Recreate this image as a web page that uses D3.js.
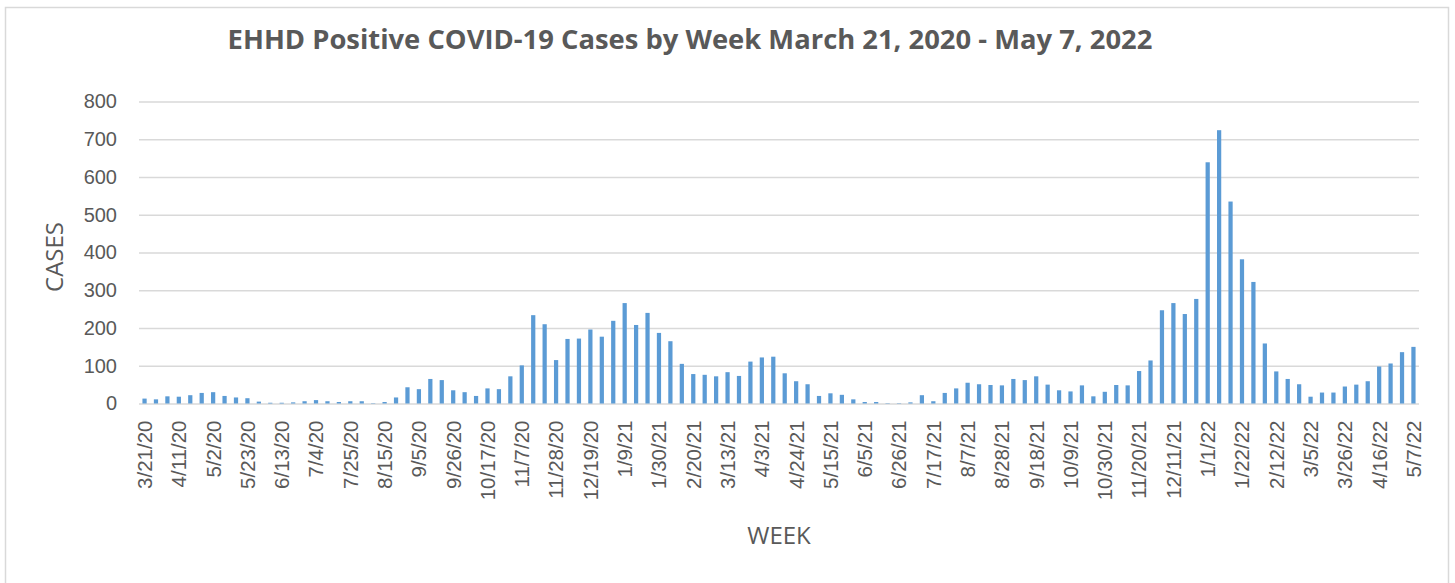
<!DOCTYPE html>
<html>
<head>
<meta charset="utf-8">
<script src="https://cdn.jsdelivr.net/npm/d3@7"></script>
<style>
  body { margin: 0; background: #fff; }
  svg { display: block; font-family: "Open Sans", sans-serif; }
</style>
</head>
<body>
<svg id="chart" width="1455" height="583"></svg>
<script>
// weekly positive cases, first week 3/21/20, last week 5/7/22
var firstWeek = "2020-03-21";
var cases = [
    13, 11, 19, 18, 22, 28, 30, 20, 16, 14, 5, 2, 2, 3, 6, 9, 6, 4, 6,
    6, 1, 4, 16, 43, 38, 65, 62, 35, 30, 20, 40, 38, 72, 101, 234, 210, 115,
    171, 172, 196, 177, 219, 266, 208, 240, 187, 165, 105, 78, 76, 72, 83, 73, 111, 122,
    124, 80, 59, 51, 20, 27, 23, 11, 4, 4, 1, 1, 3, 22, 6, 28, 40, 55,
    51, 49, 48, 65, 62, 72, 50, 35, 32, 48, 19, 31, 49, 48, 86, 114, 247, 266,
    237, 277, 639, 724, 535, 382, 322, 159, 85, 65, 51, 18, 29, 29, 45, 50, 59, 98, 106, 136, 150
];
var tickLabels = [
    "3/21/20", "4/11/20", "5/2/20", "5/23/20", "6/13/20", "7/4/20", "7/25/20", "8/15/20",
    "9/5/20", "9/26/20", "10/17/20", "11/7/20", "11/28/20", "12/19/20", "1/9/21", "1/30/21",
    "2/20/21", "3/13/21", "4/3/21", "4/24/21", "5/15/21", "6/5/21", "6/26/21", "7/17/21",
    "8/7/21", "8/28/21", "9/18/21", "10/9/21", "10/30/21", "11/20/21", "12/11/21", "1/1/22",
    "1/22/22", "2/12/22", "3/5/22", "3/26/22", "4/16/22", "5/7/22"
];
var yTicks = [0, 100, 200, 300, 400, 500, 600, 700, 800];

var parse = d3.timeParse("%Y-%m-%d"),
    fmt = d3.timeFormat("%-m/%-d/%y");
var weeks = cases.map(function(d, i) {
    return fmt(d3.timeDay.offset(parse(firstWeek), 7 * i));
});

var svg = d3.select("#chart"),
    textColor = "#595959",
    gridColor = "#d9d9d9";

// outer chart border
svg.append("rect")
    .attr("x", 5.5).attr("y", 7.5)
    .attr("width", 1443).attr("height", 600)
    .attr("fill", "#fff")
    .attr("stroke", gridColor)
    .attr("stroke-width", 1.5);

var margin = {left: 139, right: 36, top: 101.5, bottom: 179.5},
    width = 1455 - margin.left - margin.right,
    height = 583 - margin.top - margin.bottom;

var x = d3.scaleBand().domain(weeks).range([0, width]).paddingInner(0.63).paddingOuter(0.3),
    y = d3.scaleLinear().domain([0, 800]).range([height, 0]);

var g = svg.append("g")
    .attr("transform", "translate(" + margin.left + "," + margin.top + ")");

// y axis with gridlines
var yAxis = g.append("g")
    .attr("class", "axis axis--y")
    .call(d3.axisLeft(y).tickValues(yTicks).tickSize(-width).tickPadding(22));
yAxis.select(".domain").remove();
yAxis.selectAll("line").attr("stroke", gridColor).attr("stroke-width", 1.5);
yAxis.selectAll("text")
    .attr("fill", textColor)
    .style("font-size", "20px");

// bars
g.selectAll(".bar")
    .data(cases)
    .enter().append("rect")
    .attr("class", "bar")
    .attr("x", function(d, i) { return x(weeks[i]); })
    .attr("y", function(d) { return y(d); })
    .attr("width", x.bandwidth())
    .attr("height", function(d) { return height - y(d); })
    .attr("fill", "#5b9bd5");

// x axis
var xAxis = g.append("g")
    .attr("class", "axis axis--x")
    .attr("transform", "translate(0," + height + ")")
    .call(d3.axisBottom(x).tickValues(tickLabels).tickSize(0));
xAxis.select(".domain").remove();
xAxis.selectAll("text")
    .attr("transform", "rotate(-90)")
    .attr("x", -17)
    .attr("y", 0)
    .attr("dy", "0.36em")
    .attr("text-anchor", "end")
    .attr("fill", textColor)
    .style("font-size", "20.5px");

// axis titles
svg.append("text")
    .attr("transform", "translate(55,257) rotate(-90)")
    .attr("text-anchor", "middle")
    .attr("dy", "0.35em")
    .attr("fill", textColor)
    .style("font-size", "24px")
    .text("CASES");

svg.append("text")
    .attr("x", 779).attr("y", 536)
    .attr("text-anchor", "middle")
    .attr("dy", "0.35em")
    .attr("fill", textColor)
    .style("font-size", "24px")
    .text("WEEK");

// chart title
var title = svg.append("text")
    .attr("x", 690).attr("y", 49)
    .attr("text-anchor", "middle")
    .attr("fill", textColor)
    .style("font-size", "23px")
    .style("font-weight", "bold")
    .text("EHHD Positive COVID-19 Cases by Week March 21, 2020 - May 7, 2022");
var tw = title.node().getComputedTextLength();
if (tw > 0) title.style("font-size", (23 * 925 / tw) + "px");
</script>
</body>
</html>
